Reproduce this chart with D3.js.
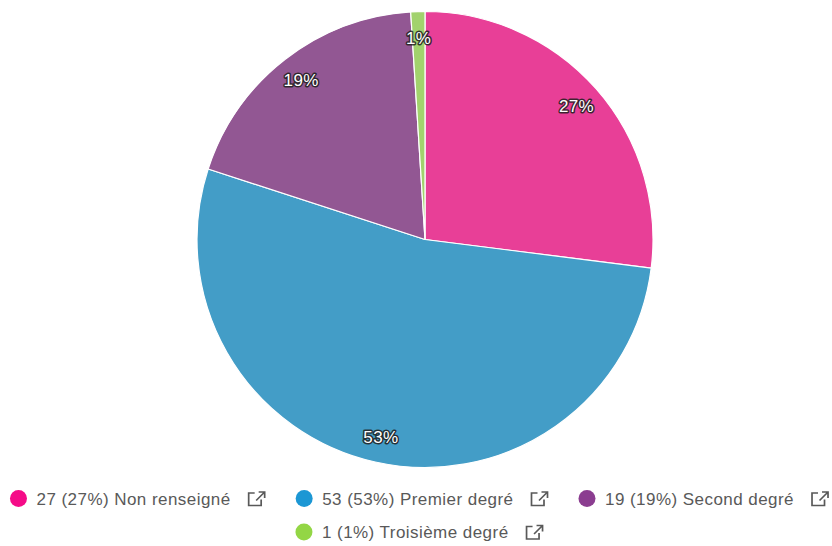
<!DOCTYPE html>
<html><head><meta charset="utf-8">
<script src="https://cdn.jsdelivr.net/npm/d3@7"></script>
<style>
html,body{margin:0;padding:0;background:#fff;}
svg{display:block;font-family:"Liberation Sans",Arial,sans-serif;}
</style></head>
<body>
<svg id="c" width="832" height="546"></svg>
<script>
const categories = ["Non renseigné", "Premier degré", "Second degré", "Troisième degré"];
const values = [27, 53, 19, 1];
const sliceColors = ["#e83f97", "#439dc7", "#925793", "#a2d26d"];
const dotColors = ["#f50b88", "#1c97d4", "#8b3d90", "#93d645"];

const svg = d3.select("#c");
const W = 832, cx = 425, cy = 239.5, R = 228;
const total = d3.sum(values);
const data = categories.map((c, i) => ({cat: c, value: values[i], i}));

const pie = d3.pie().value(d => d.value).sort(null);
const arcs = pie(data);
const arc = d3.arc().innerRadius(0).outerRadius(R);
const labelArc = d3.arc().innerRadius(202).outerRadius(202);

const g = svg.append("g").attr("transform", `translate(${cx},${cy})`);
g.selectAll("path").data(arcs).join("path")
  .attr("d", arc)
  .attr("fill", d => sliceColors[d.data.i])
  .attr("stroke", "#fff").attr("stroke-width", 1.2).attr("stroke-linejoin", "round");

g.selectAll("text").data(arcs).join("text")
  .attr("transform", d => `translate(${labelArc.centroid(d)})`)
  .attr("text-anchor", "middle").attr("dy", "0.35em")
  .attr("font-size", 17).attr("letter-spacing", 0.4)
  .attr("fill", "#fff")
  .attr("stroke", "rgba(30,30,30,0.85)").attr("stroke-width", 3).attr("stroke-linejoin", "round")
  .attr("paint-order", "stroke")
  .text(d => Math.round(d.data.value / total * 100) + "%");

// legend
const rows = [[0, 1, 2], [3]];
const rowY = [498.5, 532];
const fs = 17, ls = 0.45;
const leg = svg.append("g");
const measure = svg.append("text").attr("font-size", fs).attr("letter-spacing", ls).attr("visibility", "hidden");
function tw(s) { measure.text(s); return measure.node().getComputedTextLength(); }
const dotR = 8.5, dotGap = 9.5, iconGap = 17, iconW = 19, itemGap = 29;
rows.forEach((row, ri) => {
  const items = row.map(i => {
    const label = `${values[i]} (${Math.round(values[i] / total * 100)}%) ${categories[i]}`;
    const w = 2 * dotR + dotGap + tw(label) + iconGap + iconW;
    return {i, label, w};
  });
  const totalW = d3.sum(items, d => d.w) + itemGap * (items.length - 1);
  let x = 420 - totalW / 2;
  items.forEach(it => {
    const y = rowY[ri];
    const gi = leg.append("g").attr("transform", `translate(${x},${y})`);
    gi.append("circle").attr("cx", dotR).attr("cy", 0).attr("r", dotR).attr("fill", dotColors[it.i]);
    const tx = 2 * dotR + dotGap;
    gi.append("text").attr("x", tx).attr("y", 0).attr("dy", "0.36em")
      .attr("font-size", fs).attr("letter-spacing", ls).attr("fill", "#595959").text(it.label);
    const ix = tx + tw(it.label) + iconGap;
    const ic = gi.append("g").attr("transform", `translate(${ix},${-7.5})`)
      .attr("fill", "none").attr("stroke", "#595959").attr("stroke-width", 1.7);
    ic.append("path").attr("d", "M7,2 H1 V14.5 H13.5 V8.5");
    ic.append("path").attr("d", "M11,1 H17 V7 M17,1 L8.5,9.5");
    x += it.w + itemGap;
  });
});
measure.remove();
</script>
</body></html>
